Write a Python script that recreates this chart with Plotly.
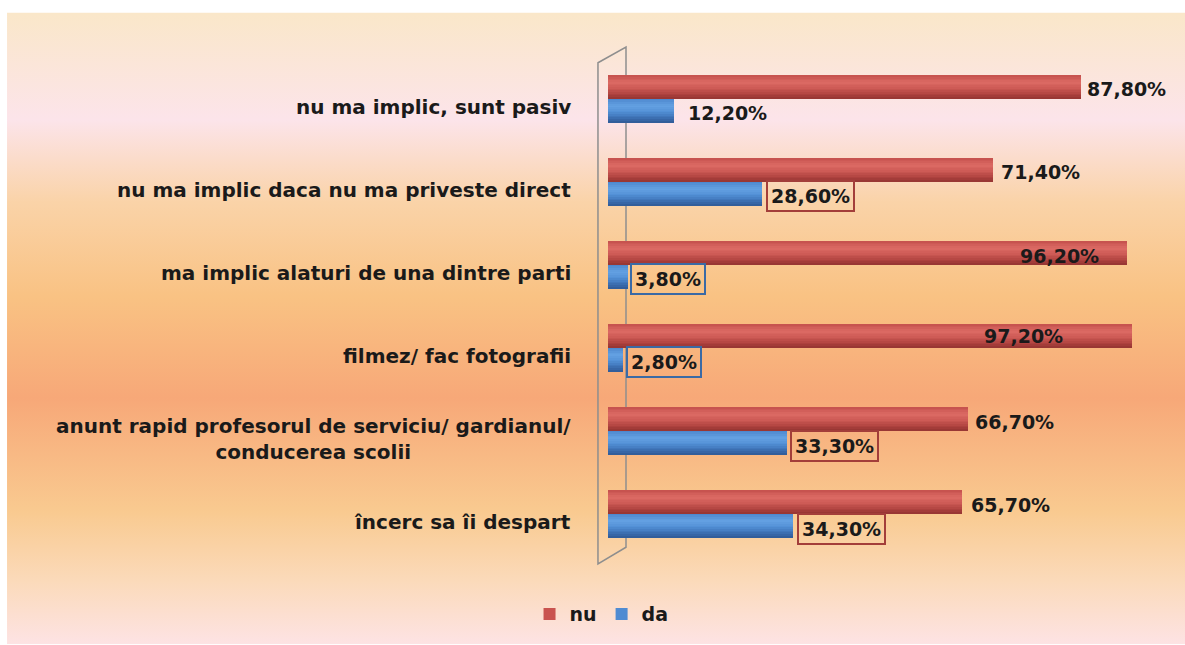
import base64
import plotly.graph_objects as go

# ---------------- data ----------------
categories = [
    "nu ma implic, sunt pasiv",
    "nu ma implic daca nu ma priveste direct",
    "ma implic alaturi de una dintre parti",
    "filmez/ fac fotografii",
    "anunt rapid profesorul de serviciu/ gardianul/<br>conducerea scolii",
    "încerc sa îi despart",
]
nu_values = [87.8, 71.4, 96.2, 97.2, 66.7, 65.7]
da_values = [12.2, 28.6, 3.8, 2.8, 33.3, 34.3]
series_names = ["nu", "da"]

# ---------------- style ----------------
FONT = "DejaVu Sans"
TXT = "#1a1a1a"
BAR_W = 0.285
N_BANDS = 14
red_ramp = [(0.0, "#C4504C"), (0.3, "#DC6A64"), (0.55, "#CD5A55"), (0.8, "#B04340"), (1.0, "#943431")]
blue_ramp = [(0.0, "#4A85CC"), (0.3, "#65A2E3"), (0.55, "#5290D6"), (0.8, "#3D71B4"), (1.0, "#305A96")]
legend_colors = {"nu": "#C9534F", "da": "#4F8BD2"}


def hex2rgb(h):
    h = h.lstrip("#")
    return [int(h[i:i + 2], 16) for i in (0, 2, 4)]


def ramp_color(ramp, t):
    for (t0, c0), (t1, c1) in zip(ramp[:-1], ramp[1:]):
        if t0 <= t <= t1:
            f = (t - t0) / (t1 - t0) if t1 > t0 else 0
            a, b = hex2rgb(c0), hex2rgb(c1)
            r = [round(a[k] + (b[k] - a[k]) * f) for k in range(3)]
            return "rgb({},{},{})".format(*r)
    return ramp[-1][1]


def fmt(v):
    return f"{v:.2f}".replace(".", ",") + "%"


idx = list(range(len(categories)))
fig = go.Figure()


def add_series(values, name, base_off, ramp):
    # base bar carries the legend entry
    fig.add_trace(go.Bar(y=idx, x=values, orientation="h", name=name,
                         offset=base_off, width=BAR_W,
                         marker=dict(color=legend_colors[name], line=dict(width=0)),
                         legendgroup=name, hoverinfo="x+name"))
    step = 1.0 / N_BANDS
    for k in range(N_BANDS):
        t = (k + 0.5) * step
        fig.add_trace(go.Bar(y=idx, x=values, orientation="h", name=name,
                             offset=base_off + k * step * BAR_W, width=step * BAR_W * 1.05,
                             marker=dict(color=ramp_color(ramp, t), line=dict(width=0)),
                             showlegend=False, legendgroup=name, hoverinfo="skip"))


add_series(nu_values, series_names[0], -BAR_W, red_ramp)
add_series(da_values, series_names[1], 0.0, blue_ramp)

# --- category labels ---
for i, c in enumerate(categories):
    fig.add_annotation(x=0, xref="x", y=i, yref="y", text=c, showarrow=False,
                       xanchor="right", yanchor="middle", align="center",
                       xshift=-35, yshift=-8,
                       font=dict(family=FONT, size=20, color=TXT, weight="bold"))

# --- value labels: (anchor, xshift, yshift, boxcolor) ---
nu_lab = [("left", 4, -2, None), ("left", 6, -2, None), ("right", -26, -3, None),
          ("right", -67, 0, None), ("left", 5, -3, None), ("left", 7, -3, None)]
da_lab = [("left", 12, -2, None), ("left", 4, -2, "#A33E3A"), ("left", 2, -2, "#3A6AA5"),
          ("left", 3, -2, "#3A6AA5"), ("left", 3, -3, "#A33E3A"), ("left", 4, -3, "#A33E3A")]


def add_labels(values, style, yoff):
    for i, (v, (anc, xs, ys, bc)) in enumerate(zip(values, style)):
        kw = {}
        if bc:
            kw = dict(bordercolor=bc, borderwidth=2, borderpad=3)
        fig.add_annotation(x=v, xref="x", y=i + yoff, yref="y", text=fmt(v),
                           showarrow=False, xanchor=anc, yanchor="middle",
                           xshift=xs, yshift=ys,
                           font=dict(family=FONT, size=19, color=TXT, weight="bold"), **kw)


add_labels(nu_values, nu_lab, -BAR_W / 2)
add_labels(da_values, da_lab, BAR_W / 2)

# --- 3D side wall of the value axis ---
fig.add_shape(type="path", xref="paper", yref="paper",
              path="M -0.0186 0.9695 L 0.0334 1.0 L 0.0334 0.0324 L -0.0186 0.0 Z",
              line=dict(color="#8E8E8E", width=1.5), fillcolor="rgba(0,0,0,0)", layer="below")

# --- gradient background ---
svg = ('<svg xmlns="http://www.w3.org/2000/svg" width="100" height="100" preserveAspectRatio="none">'
       '<defs><linearGradient id="g" x1="0" y1="0" x2="0" y2="1">'
       '<stop offset="0" stop-color="#FAE7C9"/>'
       '<stop offset="0.17" stop-color="#FCE4EA"/>'
       '<stop offset="0.30" stop-color="#FAD3A8"/>'
       '<stop offset="0.45" stop-color="#F9C283"/>'
       '<stop offset="0.61" stop-color="#F7A878"/>'
       '<stop offset="0.79" stop-color="#F9CA90"/>'
       '<stop offset="0.90" stop-color="#FBDABA"/>'
       '<stop offset="1" stop-color="#FDE3E4"/>'
       '</linearGradient></defs><rect width="100" height="100" fill="url(#g)"/></svg>')
src = "data:image/svg+xml;base64," + base64.b64encode(svg.encode()).decode()
fig.add_layout_image(source=src, xref="paper", yref="paper", x=-1.115, y=1.0667,
                     sizex=2.19, sizey=1.222, xanchor="left", yanchor="top",
                     sizing="stretch", layer="below")

fig.update_layout(
    width=1185, height=645,
    margin=dict(l=608, r=38, t=47, b=73),
    paper_bgcolor="white", plot_bgcolor="rgba(0,0,0,0)",
    barmode="overlay", bargap=0,
    xaxis=dict(range=[0, 100], visible=False, fixedrange=True),
    yaxis=dict(range=[5.6, -0.63], visible=False, fixedrange=True),
    showlegend=True,
    legend=dict(orientation="h", x=-0.012, xanchor="center", y=-0.097, yanchor="middle",
                font=dict(family=FONT, size=19, color=TXT, weight="bold"),
                bgcolor="rgba(0,0,0,0)", itemwidth=30, traceorder="normal"),
)

fig.write_html("out.html", config={"displayModeBar": False},
               post_script="document.body.style.margin='0';document.body.style.padding='0';")
